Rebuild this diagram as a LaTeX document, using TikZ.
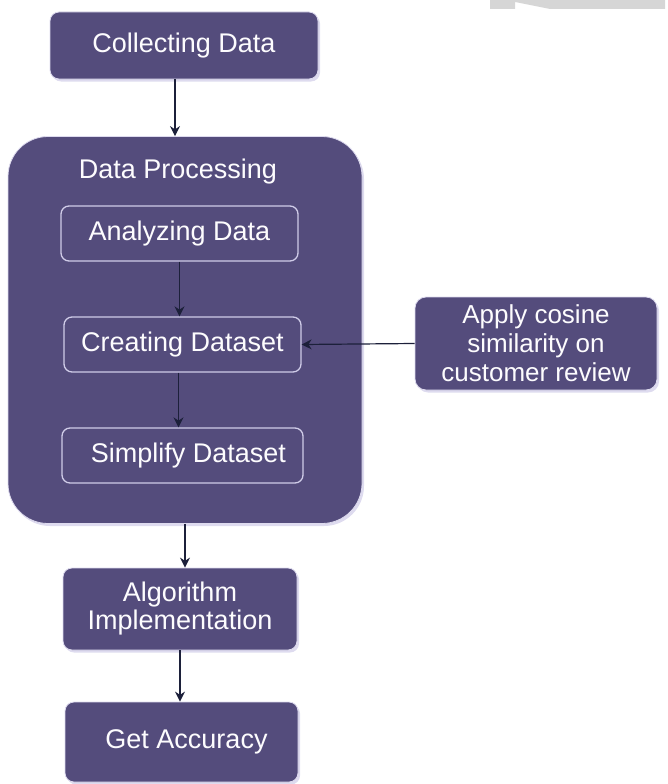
\documentclass[tikz,border=0pt]{standalone}
\usepackage{xcolor}
\usepackage{fontspec}
\setmainfont{Liberation Sans}
\usepackage{tikz}
\usetikzlibrary{shapes,arrows.meta,positioning,calc,shadows}
\definecolor{procpurple}{RGB}{84,76,124}
\definecolor{procedge}{RGB}{208,204,232}
\definecolor{arrowdark}{RGB}{28,32,58}
\definecolor{scangrey}{RGB}{214,214,214}

\tikzset{
  stagebox/.style={fill=procpurple, draw=procedge!70, line width=0.8pt, rounded corners=9pt,
    text=white!95!procedge, align=center, inner sep=0pt,
    font=\fontsize{27}{28}\selectfont,
    drop shadow={shadow xshift=2pt, shadow yshift=-2.5pt, fill=procedge, opacity=0.7}},
  subbox/.style={draw=procedge, line width=1.3pt, rounded corners=8pt,
    text=white!95!procedge, align=center, inner sep=0pt,
    font=\fontsize{27}{28}\selectfont},
  flow/.style={draw=arrowdark, line width=1.2pt, -{Stealth[length=10pt,width=10pt]}}
}

\begin{document}
\begin{tikzpicture}[x=1pt,y=-1pt]
\useasboundingbox (0,0) rectangle (667,784);
% stray grey patch at the top
\fill[scangrey] (490,0) -- (665,0) -- (665,9) -- (550,9) -- (515,2) -- (515,9) -- (490,9) -- cycle;

% main column
\node[stagebox, minimum width=268pt, minimum height=67pt] (collect) at (184,45.5) {Collecting Data};
\node[stagebox, rounded corners=40pt, minimum width=354pt, minimum height=387pt] (proc) at (185,330) {};
\node[text=white!95!procedge, font=\fontsize{27}{28}\selectfont] (proctitle) at (178,172) {Data Processing};
\node[subbox, minimum width=237pt, minimum height=55pt] (analyze) at (179.5,233.5) {Analyzing Data};
\node[subbox, minimum width=237pt, minimum height=55pt] (create) at (182.5,344.5) {Creating Dataset};
\node[subbox, minimum width=241pt, minimum height=55pt] (simplify) at (182.5,455.5) {\hspace{12pt}Simplify Dataset};
\node[stagebox, minimum width=234pt, minimum height=82pt] (algo) at (180,609) {Algorithm\\Implementation};
\node[stagebox, minimum width=233pt, minimum height=80pt] (accuracy) at (181.5,742) {\hspace{10pt}Get Accuracy};

% side input
\node[stagebox, rounded corners=11pt, minimum width=242pt, minimum height=93pt,
  font=\fontsize{26}{29}\selectfont] (cosine) at (536,343.5) {Apply cosine\\similarity on\\customer review};

% connectors
\draw[flow] ([xshift=-9pt]collect.south) -- ([xshift=-9pt]collect.south |- proc.north);
\draw[flow] (analyze.south) -- (analyze.south |- create.north);
\draw[flow] ([xshift=-4pt]create.south) -- ([xshift=-4pt]create.south |- simplify.north);
\draw[flow] (proc.south) -- (proc.south |- algo.north);
\draw[flow] (algo.south) -- (algo.south |- accuracy.north);
\draw[flow] (cosine.west) -- (create.east);
\end{tikzpicture}
\end{document}
